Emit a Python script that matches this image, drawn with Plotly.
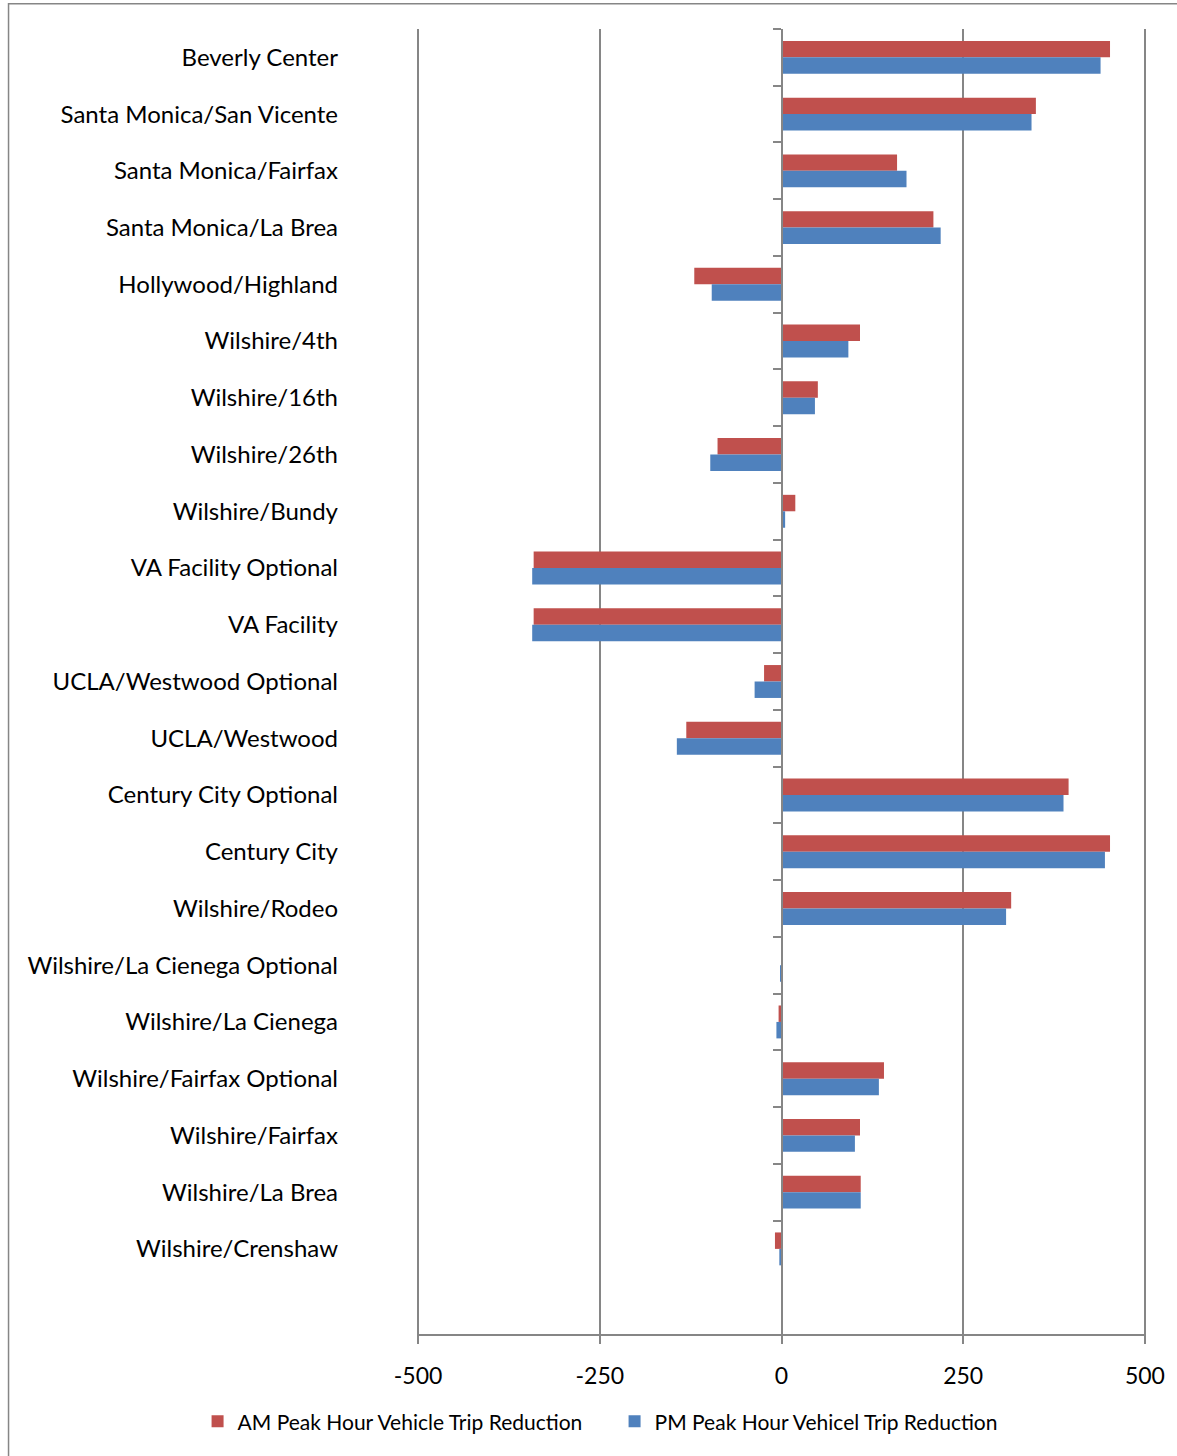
import plotly.graph_objects as go

# Station areas, listed top to bottom
stations = [
    "Beverly Center",
    "Santa Monica/San Vicente",
    "Santa Monica/Fairfax",
    "Santa Monica/La Brea",
    "Hollywood/Highland",
    "Wilshire/4th",
    "Wilshire/16th",
    "Wilshire/26th",
    "Wilshire/Bundy",
    "VA Facility Optional",
    "VA Facility",
    "UCLA/Westwood Optional",
    "UCLA/Westwood",
    "Century City Optional",
    "Century City",
    "Wilshire/Rodeo",
    "Wilshire/La Cienega Optional",
    "Wilshire/La Cienega",
    "Wilshire/Fairfax Optional",
    "Wilshire/Fairfax",
    "Wilshire/La Brea",
    "Wilshire/Crenshaw",
]

am_reduction = [452, 350, 159, 209, -120, 108, 50, -88, 19, -341, -341,
                -24, -131, 395, 452, 316, 0, -4, 141, 108, 109, -9]
pm_reduction = [439, 344, 172, 219, -96, 92, 46, -98, 5, -343, -343,
                -37, -144, 388, 445, 309, -2, -7, 134, 101, 109, -3]

x_ticks = [-500, -250, 0, 250, 500]
x_tick_text = ["-500", "-250", "0", "250", "500"]

RED = "#C0504D"
BLUE = "#4F81BD"
GRID = "#868686"
FONT = "Lato, 'Open Sans', sans-serif"

fig = go.Figure()
fig.add_trace(go.Bar(
    name="AM Peak Hour Vehicle Trip Reduction",
    y=stations, x=am_reduction, orientation="h",
    marker=dict(color=RED, line=dict(width=0)),
))
fig.add_trace(go.Bar(
    name="PM Peak Hour Vehicel Trip Reduction",
    y=stations, x=pm_reduction, orientation="h",
    marker=dict(color=BLUE, line=dict(width=0)),
))
# invisible carrier for the category axis that sits on x = 0
fig.add_trace(go.Scatter(
    x=[0] * len(stations), y=stations, yaxis="y2",
    mode="markers", marker=dict(opacity=0), showlegend=False, hoverinfo="skip",
))

n = len(stations)
y_range = [n + 0.5, -0.5]

fig.update_layout(
    width=1177, height=1456,
    margin=dict(l=417, r=28, t=29, b=122),
    paper_bgcolor="white", plot_bgcolor="white",
    font=dict(family=FONT, color="black", size=24),
    barmode="group", bargap=0.42, bargroupgap=0,
    xaxis=dict(
        range=[-501.5, 501.5], tickvals=x_ticks, ticktext=x_tick_text,
        showgrid=True, gridcolor=GRID, gridwidth=1.6,
        zeroline=False,
        showline=True, linecolor=GRID, linewidth=1.6,
        ticks="outside", ticklen=8, tickcolor=GRID, tickwidth=1.6,
        ticklabelstandoff=13,
        tickfont=dict(size=23),
    ),
    yaxis=dict(
        type="category", categoryorder="array", categoryarray=stations,
        range=y_range,
        showgrid=False, zeroline=False, showline=False, ticks="",
        ticklabelstandoff=78,
        tickfont=dict(size=24),
    ),
    yaxis2=dict(
        type="category", categoryorder="array", categoryarray=stations,
        range=y_range, overlaying="y", anchor="free", position=0.5, side="left",
        showgrid=False, zeroline=False,
        showline=True, linecolor=GRID, linewidth=1.6,
        ticks="outside", tickson="boundaries", ticklen=8,
        tickcolor=GRID, tickwidth=1.6,
        showticklabels=False,
    ),
    legend=dict(
        orientation="h", xref="paper", yref="paper",
        x=-0.301, xanchor="left", y=-0.0672, yanchor="middle",
        font=dict(size=21), itemwidth=30,
        entrywidth=372, entrywidthmode="pixels",
    ),
    showlegend=True,
)

# outer chart border
fig.add_shape(
    type="rect", xref="paper", yref="paper",
    x0=-0.5603, x1=1.2, y0=-0.2, y1=1.0194,
    line=dict(color=GRID, width=1.5), fillcolor="rgba(0,0,0,0)", layer="below",
)

fig.write_html("out.html")
